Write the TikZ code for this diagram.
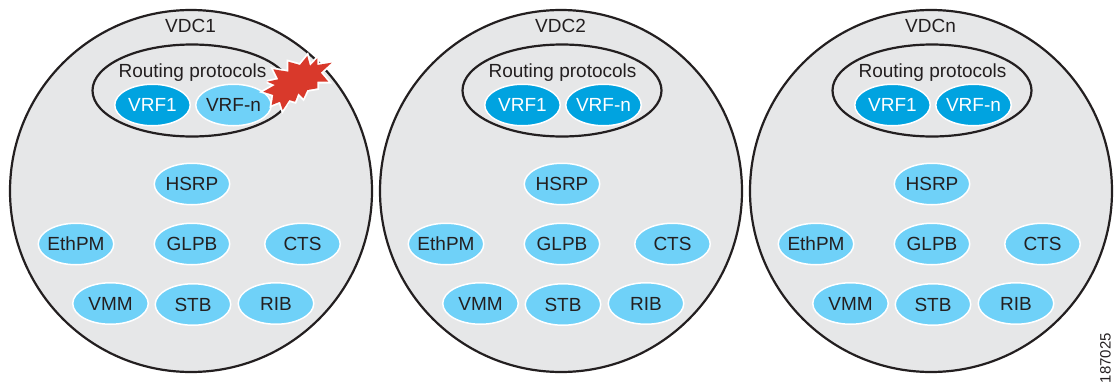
\documentclass[tikz,border=0pt]{standalone}
\usepackage{fontspec}
\setmainfont{Liberation Sans}
\usetikzlibrary{shapes.geometric}
\definecolor{ink}{HTML}{231F20}
\definecolor{vdcgrey}{HTML}{E6E7E8}
\definecolor{dkblue}{HTML}{00A3E0}
\definecolor{ltblue}{HTML}{6FD1F8}
\definecolor{burst}{HTML}{D9392B}
\newcommand{\plab}[1]{\raisebox{-.358em}[0pt][0pt]{\makebox[0pt][c]{#1}}}
\tikzset{
  x=1pt,y=-1pt,
  every node/.style={text=ink,font=\fontsize{19}{21}\selectfont},
  vdc/.style={circle,draw=ink,line width=2.2pt,fill=vdcgrey,minimum size=362pt,inner sep=0pt},
  rpgroup/.style={ellipse,draw=ink,line width=2.2pt,minimum width=199pt,minimum height=92pt,inner sep=0pt},
  proc/.style={ellipse,draw=white,line width=1.5pt,fill=ltblue,minimum width=75.5pt,minimum height=41.5pt,inner sep=0pt},
  vrfon/.style={proc,fill=dkblue,text=white},
  vrfdown/.style={proc},
  lbl/.style={inner sep=0pt},
}
\begin{document}
\begin{tikzpicture}
\useasboundingbox (0,0) rectangle (1119,383);
\foreach \dx/\id/\nm/\vstyle in {0/a/VDC1/vrfdown,370/b/VDC2/vrfon,740/c/VDCn/vrfon}{
  \begin{scope}[xshift=\dx pt]
    \node[vdc] (vdc\id) at (191,191) {};
    \node[lbl] (title\id) at (190.5,26) {\nm};
    \node[rpgroup] (rp\id) at (192,90.5) {};
    \node[lbl] (rptext\id) at (192.5,73) {Routing protocols};
    \node[vrfon] (vrfone\id) at (152.5,105) {\plab{VRF1}};
    \node[\vstyle] (vrfn\id) at (233.5,105) {\plab{VRF-n}};
    \node[proc] (hsrp\id) at (192,184) {\plab{HSRP}};
    \node[proc] (ethpm\id) at (76,244) {\plab{EthPM}};
    \node[proc] (glpb\id) at (192,244) {\plab{GLPB}};
    \node[proc] (cts\id) at (302.5,244) {\plab{CTS}};
    \node[proc] (vmm\id) at (110.5,303.5) {\plab{VMM}};
    \node[proc] (stb\id) at (193,304.5) {\plab{STB}};
    \node[proc] (rib\id) at (276,303.5) {\plab{RIB}};
  \end{scope}
}
\path[fill=burst,preaction={draw=white,line width=3.6pt,line join=miter,miter limit=3}]
  (273.3,69.3)--(288.3,71.7)--(288.3,61.7)--(300,65)--(307.3,56)--(310,66)--(317.3,58.3)--(317.3,65)--(331.7,62.7)--(320.7,72.7)--(328.3,81.7)--(317.3,81.7)--(317.3,88.3)--(307.3,90)--(303.3,98.3)--(298.3,93.3)--(295,101.7)--(289.3,100)--(282.7,110)--(280,101.7)--(271.7,105)--(273.3,95)--(263.3,91.7)--(275,85)--(267.3,81.7)--(278.3,79.3)--cycle;
\node[lbl,rotate=90,font=\fontsize{15}{17}\selectfont] (figid) at (1105.5,358) {187025};
\end{tikzpicture}
\end{document}
